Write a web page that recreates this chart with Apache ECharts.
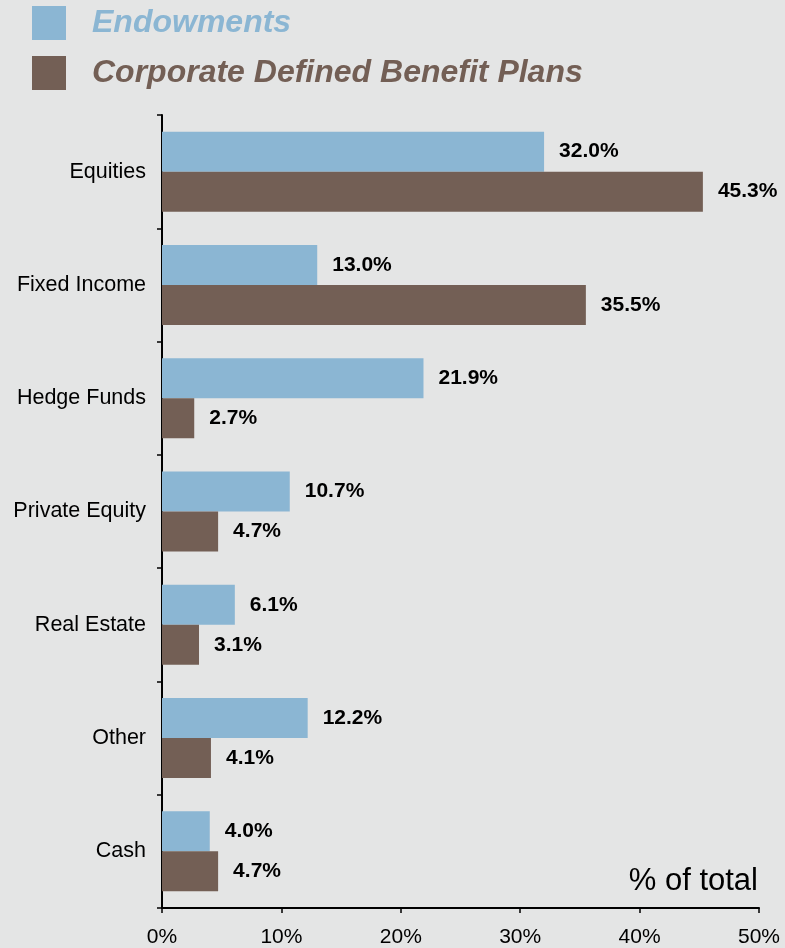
<!DOCTYPE html>
<html><head><meta charset="utf-8">
<script src="https://cdn.jsdelivr.net/npm/echarts@6/dist/echarts.min.js"></script>
<style>html,body{margin:0;padding:0;background:#e4e5e5;}#c{width:785px;height:948px;}</style>
</head><body><div id="c"></div>
<script>
const categories = ['Equities','Fixed Income','Hedge Funds','Private Equity','Real Estate','Other','Cash'];
const endowments = [32.0, 13.0, 21.9, 10.7, 6.1, 12.2, 4.0];
const corporateDB = [45.3, 35.5, 2.7, 4.7, 3.1, 4.1, 4.7];
const seriesNames = ['Endowments','Corporate Defined Benefit Plans'];
const xTicks = [0, 10, 20, 30, 40, 50];
const blue = '#8bb6d3', brown = '#735f55';
const chart = echarts.init(document.getElementById('c'));
const lbl = {show:true, position:'right', distance:15, color:'#000', fontFamily:'Liberation Sans, Arial', fontWeight:'bold', fontSize:21, formatter: p => p.value.toFixed(1) + '%'};
chart.setOption({
  backgroundColor:'#e4e5e5',
  animation:false,
  legend:{orient:'vertical', left:32, top:6, padding:0, itemWidth:34, itemHeight:34, itemGap:16, icon:'rect',
    data:[{name:seriesNames[0], textStyle:{color:blue}},{name:seriesNames[1], textStyle:{color:brown}}],
    textStyle:{fontFamily:'Liberation Sans, Arial', fontWeight:'bold', fontStyle:'italic', fontSize:32, padding:[0,0,0,21]}},
  grid:{left:162, right:26, top:115, bottom:39},
  xAxis:{type:'value', min:xTicks[0], max:xTicks[xTicks.length-1], interval:10,
    axisLine:{show:true, lineStyle:{color:'#000', width:2}},
    axisTick:{show:true, length:5, lineStyle:{color:'#000', width:1.5}},
    splitLine:{show:false},
    axisLabel:{color:'#000', fontFamily:'Liberation Sans, Arial', fontSize:21, margin:19, formatter: v => v + '%'}},
  yAxis:{type:'category', data:categories, inverse:true,
    axisLine:{show:true, lineStyle:{color:'#000', width:2}},
    axisTick:{show:true, length:5, lineStyle:{color:'#000', width:1.5}},
    axisLabel:{color:'#000', fontFamily:'Liberation Sans, Arial', fontSize:21.5, margin:16}},
  graphic:[{type:'text', right:27, top:866, style:{text:'% of total', fill:'#000', font:'31px "Liberation Sans", Arial'}}],
  series:[
    {name:seriesNames[0], type:'bar', data:endowments, barWidth:40, barGap:'0%', itemStyle:{color:blue}, label:lbl},
    {name:seriesNames[1], type:'bar', data:corporateDB, barWidth:40, barGap:'0%', itemStyle:{color:brown}, label:lbl}
  ]
});
</script></body></html>
